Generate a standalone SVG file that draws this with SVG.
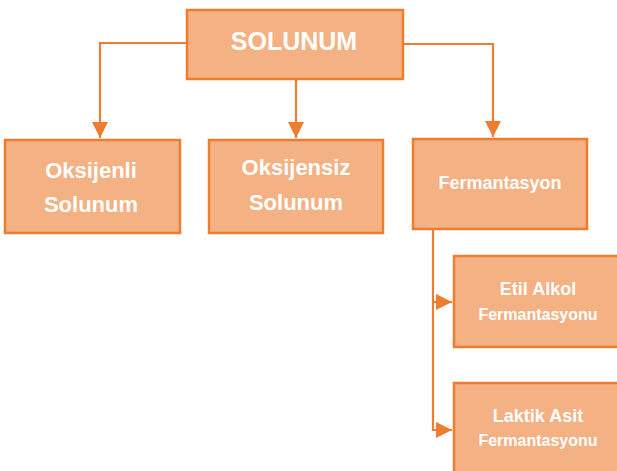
<svg xmlns="http://www.w3.org/2000/svg" width="617" height="471" viewBox="0 0 617 471">
<defs>
<style>
.box{fill:#F4B183;stroke:#ED7D31;stroke-width:2.5}
.t{fill:#ffffff;font-family:"Liberation Sans",Arial,sans-serif;font-weight:bold;text-anchor:middle}
.c{fill:none;stroke:#ED7D31;stroke-width:2.2}
</style>
<marker id="ah" viewBox="0 0 10 10" refX="10" refY="5" markerWidth="7.5" markerHeight="7.5" markerUnits="strokeWidth" orient="auto">
<path d="M0,0 L10,5 L0,10 z" fill="#ED7D31"/>
</marker>
</defs>
<rect width="617" height="471" fill="#ffffff"/>
<g id="connectors">
<path class="c" d="M187,43 H100 V138" marker-end="url(#ah)"/>
<path class="c" d="M296,79 V138" marker-end="url(#ah)"/>
<path class="c" d="M403,44 H493 V137" marker-end="url(#ah)"/>
<path class="c" d="M433,229 V430 H452" marker-end="url(#ah)"/>
<path class="c" d="M433,302 H452" marker-end="url(#ah)"/>
</g>
<g id="solunum">
<rect class="box" x="187" y="10" width="216" height="69"/>
<text class="t" x="294" y="50" font-size="25">SOLUNUM</text>
</g>
<g id="oksijenli">
<rect class="box" x="5" y="140" width="175" height="93"/>
<text class="t" x="91" y="178" font-size="22">Oksijenli</text>
<text class="t" x="91" y="212" font-size="22">Solunum</text>
</g>
<g id="oksijensiz">
<rect class="box" x="209" y="140" width="174" height="93"/>
<text class="t" x="296" y="175" font-size="22">Oksijensiz</text>
<text class="t" x="296" y="210" font-size="22">Solunum</text>
</g>
<g id="fermantasyon">
<rect class="box" x="413" y="139" width="174" height="90"/>
<text class="t" x="500" y="189" font-size="18">Fermantasyon</text>
</g>
<g id="etil">
<rect class="box" x="454" y="256" width="170" height="91"/>
<text class="t" x="538" y="295" font-size="18">Etil Alkol</text>
<text class="t" x="538" y="320" font-size="16">Fermantasyonu</text>
</g>
<g id="laktik">
<rect class="box" x="454" y="383" width="170" height="100"/>
<text class="t" x="538" y="422" font-size="18">Laktik Asit</text>
<text class="t" x="538" y="446" font-size="16">Fermantasyonu</text>
</g>
</svg>
